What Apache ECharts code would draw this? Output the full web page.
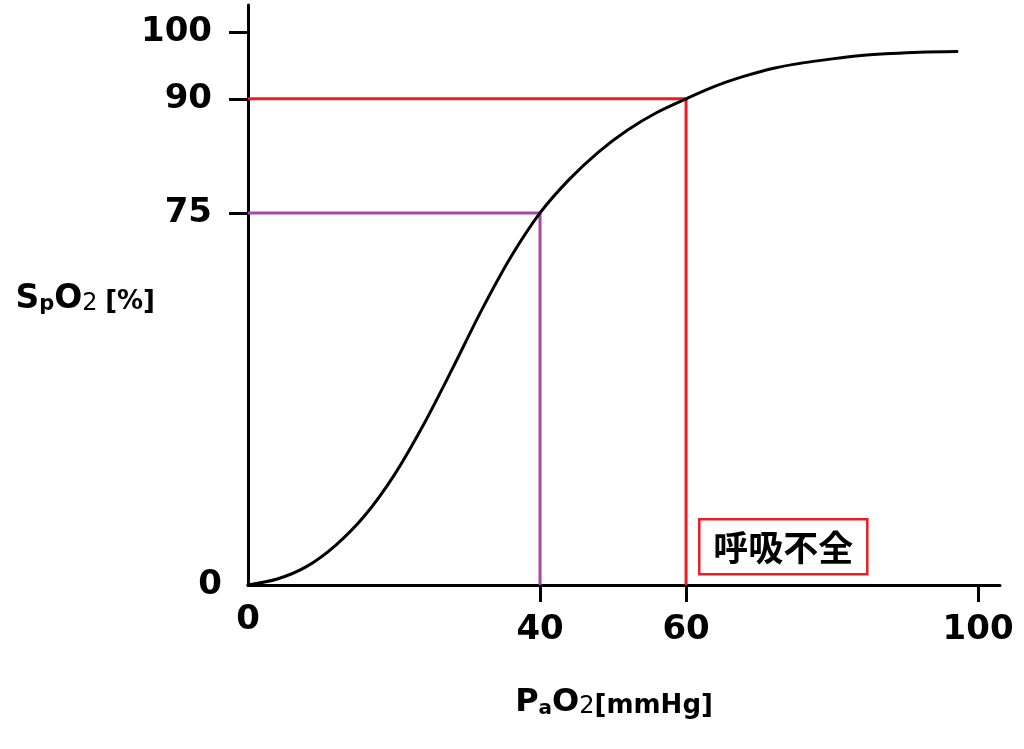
<!DOCTYPE html>
<html>
<head>
<meta charset="utf-8">
<script src="https://cdn.jsdelivr.net/npm/echarts@6/dist/echarts.min.js"></script>
<style>
html,body{margin:0;padding:0;background:#fff;}
#chart{width:1024px;height:749px;}
</style>
</head>
<body>
<div id="chart"></div>
<script>
// ---- data ----
const pao2 = [0, 4, 8, 12, 16, 20, 24, 28, 32, 36, 40, 44, 48, 52, 56, 60, 64, 68, 72, 76, 80, 84, 88, 92, 97.1];
const spo2 = [0, 1.2, 3.7, 8.0, 14.0, 22.1, 32.2, 43.6, 55.4, 66.1, 75, 79.4, 83.0, 85.9, 88.2, 90, 91.9, 93.4, 94.6, 95.4, 96.0, 96.5, 96.8, 97.0, 97.1];
const xTickLabels = [0, 40, 60, 100];
const yTickLabels = [0, 75, 90, 100];
const purpleGuide = {pao2: 40, spo2: 75};
const redGuide = {pao2: 60, spo2: 90};
const annotationText = '呼吸不全';

// The reference's SpO2 axis is schematic (not linear): piecewise-linear scale knots
const SCALE_IN  = [0, 75, 90, 100, 105];
const SCALE_OUT = [0, 75, 98.0, 111.4, 118.1];
function toAxis(v){
  for (let i = 1; i < SCALE_IN.length; i++) {
    if (v <= SCALE_IN[i]) {
      const t = (v - SCALE_IN[i-1]) / (SCALE_IN[i] - SCALE_IN[i-1]);
      return SCALE_OUT[i-1] + t * (SCALE_OUT[i] - SCALE_OUT[i-1]);
    }
  }
  return SCALE_OUT[SCALE_OUT.length-1];
}
function fromAxis(d){
  let best = yTickLabels[0], bd = Infinity;
  yTickLabels.forEach(v => { const dd = Math.abs(toAxis(v) - d); if (dd < bd) { bd = dd; best = v; } });
  return best;
}

const FONT = '"DejaVu Sans", Verdana, sans-serif';
const RED = '#ED1C24', PURPLE = '#A349A4';

const curve = pao2.map((x, i) => [x, toAxis(spo2[i])]);
const purpleLine = [[0, toAxis(purpleGuide.spo2)], [purpleGuide.pao2, toAxis(purpleGuide.spo2)], [purpleGuide.pao2, 0]];
const redLine = [[0, toAxis(redGuide.spo2)], [redGuide.pao2, toAxis(redGuide.spo2)], [redGuide.pao2, 0]];

const chart = echarts.init(document.getElementById('chart'), null, {renderer: 'canvas'});
chart.setOption({
  animation: false,
  backgroundColor: '#fff',
  grid: {left: 248, right: 24, top: 5, bottom: 164, containLabel: false, outerBoundsMode: 'none'},
  xAxis: {
    type: 'value', min: 0, max: 103.0,
    splitLine: {show: false},
    axisLine: {show: true, lineStyle: {color: '#000', width: 3}},
    axisTick: {show: true, customValues: xTickLabels.filter(v => v !== 0), length: 17, lineStyle: {color: '#000', width: 3}},
    axisLabel: {
      customValues: xTickLabels, margin: 18,
      formatter: v => v === 0 ? '{z|0}' : '{n|' + v + '}',
      rich: {
        z: {fontFamily: FONT, fontWeight: 'bold', fontSize: 34, color: '#000'},
        n: {fontFamily: FONT, fontWeight: 'bold', fontSize: 34, color: '#000', padding: [10, 0, 0, 0]}
      }
    },
    name: '{b|P}{s|a}{b|O}{m|2}{u|[mmHg]}',
    nameLocation: 'middle', nameGap: 102,
    nameTextStyle: {
      padding: [0, 20, 0, 0],
      rich: {
        b: {fontFamily: FONT, fontWeight: 'bold', fontSize: 32, color: '#000', verticalAlign: 'bottom'},
        s: {fontFamily: FONT, fontWeight: 'bold', fontSize: 20, color: '#000', verticalAlign: 'bottom'},
        m: {fontFamily: FONT, fontWeight: 'normal', fontSize: 24, color: '#000', verticalAlign: 'bottom'},
        u: {fontFamily: FONT, fontWeight: 'bold', fontSize: 26, color: '#000', verticalAlign: 'bottom'}
      }
    }
  },
  yAxis: {
    type: 'value', min: 0, max: 116.9,
    splitLine: {show: false},
    axisLine: {show: true, lineStyle: {color: '#000', width: 3}},
    axisTick: {show: true, customValues: yTickLabels.filter(v => v !== 0).map(toAxis), length: 19, lineStyle: {color: '#000', width: 3}},
    axisLabel: {
      customValues: yTickLabels.map(toAxis), margin: 26,
      formatter: d => { const v = fromAxis(d); return v === 0 ? '{z|0}' : '{n|' + v + '}'; },
      rich: {
        z: {fontFamily: FONT, fontWeight: 'bold', fontSize: 34, color: '#000'},
        n: {fontFamily: FONT, fontWeight: 'bold', fontSize: 34, color: '#000', padding: [0, 10, 0, 0]}
      }
    },
    name: '{b|S}{s|p}{b|O}{m|2 }{u|[%]}',
    nameLocation: 'middle', nameGap: 93, nameRotate: 0, nameMoveOverlap: false,
    nameTextStyle: {
      padding: [8, 0, 0, 0],
      rich: {
        b: {fontFamily: FONT, fontWeight: 'bold', fontSize: 33, color: '#000', verticalAlign: 'bottom'},
        s: {fontFamily: FONT, fontWeight: 'bold', fontSize: 21, color: '#000', verticalAlign: 'bottom'},
        m: {fontFamily: FONT, fontWeight: 'normal', fontSize: 24, color: '#000', verticalAlign: 'bottom'},
        u: {fontFamily: FONT, fontWeight: 'bold', fontSize: 26, color: '#000', verticalAlign: 'bottom'}
      }
    }
  },
  series: [
    {type: 'line', data: purpleLine, showSymbol: false, symbol: 'none', lineStyle: {color: PURPLE, width: 3}, z: 2},
    {type: 'line', data: redLine, showSymbol: false, symbol: 'none', lineStyle: {color: RED, width: 3}, z: 3},
    {type: 'line', data: curve, showSymbol: false, symbol: 'none', smooth: 0.3,
     lineStyle: {color: '#000', width: 3, cap: 'round'}, z: 4}
  ]
});

// annotation box anchored at the foot of the red guide line
const p = chart.convertToPixel({xAxisIndex: 0, yAxisIndex: 0}, [redGuide.pao2, 0]);
const bx = p[0] + 12, by = p[1] - 12 - 55;
chart.setOption({
  graphic: [{
    type: 'group', left: bx, top: by, children: [
      {type: 'rect', shape: {x: 0, y: 0, width: 168, height: 55}, style: {fill: '#fff', stroke: RED, lineWidth: 2.5}},
      {type: 'text', x: 84, y: 28, style: {text: annotationText, fill: '#000', font: 'bold 35px "Noto Sans CJK JP"', align: 'center', verticalAlign: 'middle'}}
    ]
  }]
});
</script>
</body>
</html>
